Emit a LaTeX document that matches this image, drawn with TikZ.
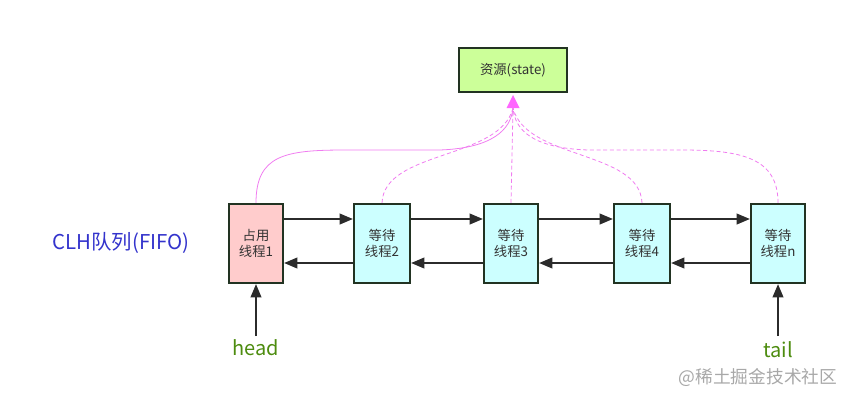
\documentclass[tikz,border=0pt]{standalone}
\usepackage{fontspec}
\setmainfont{Noto Sans CJK SC}
\usetikzlibrary{arrows.meta}
\definecolor{boxline}{HTML}{223322}
\definecolor{greenfill}{HTML}{CCFF99}
\definecolor{redfill}{HTML}{FFCCCC}
\definecolor{cyanfill}{HTML}{CCFFFF}
\definecolor{pinkline}{HTML}{F07CF0}
\definecolor{pinktip}{HTML}{FF66FF}
\definecolor{arrowdark}{HTML}{2B2B2B}
\definecolor{labelblue}{HTML}{3333CC}
\definecolor{labelgreen}{HTML}{4D8C0F}
\definecolor{wmgray}{HTML}{A8A8A8}
\tikzset{
  px/.style={x=0.75pt,y=-0.75pt},
  thread/.style={draw=boxline,line width=1.6pt,inner sep=0pt,minimum height=79*0.75pt,
    align=center,font=\fontsize{10pt}{12pt}\selectfont,text=black!80},
  res/.style={draw=boxline,line width=1.6pt,fill=greenfill,inner sep=0pt,
    minimum width=108*0.75pt,minimum height=44*0.75pt,font=\fontsize{10pt}{12pt}\selectfont,text=black!80},
  link/.style={draw=arrowdark,line width=1.5pt,-{Triangle[length=10pt,width=8pt]}},
  share/.style={draw=pinkline,line width=0.6pt},
  shared/.style={share,dash pattern=on 3pt off 2pt},
}
\begin{document}
\begin{tikzpicture}[px]
\useasboundingbox (0,0) rectangle (852,401);
\node[res] (state) at (513,70) {资源(state)};
\node[thread,fill=redfill,minimum width=54*0.75pt] (t1) at (256,243.5) {占用\\线程1};
\node[thread,fill=cyanfill,minimum width=56*0.75pt] (t2) at (382,243.5) {等待\\线程2};
\node[thread,fill=cyanfill,minimum width=54*0.75pt] (t3) at (511,243.5) {等待\\线程3};
\node[thread,fill=cyanfill,minimum width=56*0.75pt] (t4) at (642,243.5) {等待\\线程4};
\node[thread,fill=cyanfill,minimum width=54*0.75pt] (tn) at (778,243.5) {等待\\线程n};
\coordinate (tip) at (513,108);
% shared resource connectors
\draw[share] (t1.north) .. controls (256,155) and (285,150) .. (345,150) -- (440,150) .. controls (492,148) and (511,130) .. (tip);
\draw[shared] (t2.north) .. controls (384,150) and (500,160) .. (tip);
\draw[shared] (t3.north) -- (tip);
\draw[shared] (t4.north) .. controls (640,150) and (526,160) .. (tip);
\draw[shared] (tn.north) .. controls (778,158) and (742,150) .. (682,150) -- (588,150) .. controls (532,148) and (515,130) .. (tip);
\fill[pinktip] (tip) ++(-6.5,0) -- (513,95) -- (519.5,108) -- cycle;
% queue links
\draw[link] ([yshift=24.5*0.75pt]t1.east) -- ([yshift=24.5*0.75pt]t2.west);
\draw[link] ([yshift=-19.5*0.75pt]t2.west) -- ([yshift=-19.5*0.75pt]t1.east);
\draw[link] ([yshift=24.5*0.75pt]t2.east) -- ([yshift=24.5*0.75pt]t3.west);
\draw[link] ([yshift=-19.5*0.75pt]t3.west) -- ([yshift=-19.5*0.75pt]t2.east);
\draw[link] ([yshift=24.5*0.75pt]t3.east) -- ([yshift=24.5*0.75pt]t4.west);
\draw[link] ([yshift=-19.5*0.75pt]t4.west) -- ([yshift=-19.5*0.75pt]t3.east);
\draw[link] ([yshift=24.5*0.75pt]t4.east) -- ([yshift=24.5*0.75pt]tn.west);
\draw[link] ([yshift=-19.5*0.75pt]tn.west) -- ([yshift=-19.5*0.75pt]t4.east);
% labels
\node[text=labelblue,font=\fontsize{15.3pt}{17pt}\selectfont] (clh) at (121,243) {CLH队列(FIFO)};
\node[text=labelgreen,font=\fontsize{15pt}{17pt}\selectfont] (head) at (256,348) {head};
\node[text=labelgreen,font=\fontsize{15pt}{17pt}\selectfont] (tail) at (778,350) {tail};
\coordinate (headtop) at (256,336);
\coordinate (tailtop) at (778,336);
\draw[link] (headtop) -- (t1.south);
\draw[link] (tailtop) -- (tn.south);
\node[text=wmgray,font=\fontsize{13.3pt}{15pt}\selectfont] (wm) at (758,377) {@稀土掘金技术社区};
\end{tikzpicture}
\end{document}
